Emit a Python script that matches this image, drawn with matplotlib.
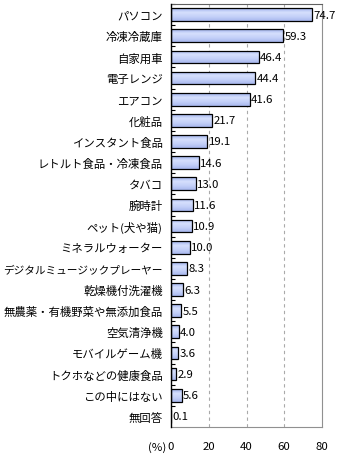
import matplotlib.pyplot as plt
import numpy as np
from matplotlib.colors import LinearSegmentedColormap

plt.rcParams['font.family'] = ['Noto Sans CJK JP', 'DejaVu Sans']

categories = [
    'パソコン', '冷凍冷蔵庫', '自家用車', '電子レンジ', 'エアコン', '化粧品',
    'インスタント食品', 'レトルト食品・冷凍食品', 'タバコ', '腕時計',
    'ペット(犬や猫)', 'ミネラルウォーター', 'デジタルミュージックプレーヤー',
    '乾燥機付洗濯機', '無農薬・有機野菜や無添加食品', '空気清浄機',
    'モバイルゲーム機', 'トクホなどの健康食品', 'この中にはない', '無回答',
]
values = [74.7, 59.3, 46.4, 44.4, 41.6, 21.7, 19.1, 14.6, 13.0, 11.6,
          10.9, 10.0, 8.3, 6.3, 5.5, 4.0, 3.6, 2.9, 5.6, 0.1]
xticks = [0, 20, 40, 60, 80]


def plot_data():
    fig = plt.figure(figsize=(3.4, 4.6), dpi=100)
    ax = fig.add_axes([171 / 340, 32 / 460, 151 / 340, 423 / 460])

    # bar fill: darker at top/bottom, light in the middle
    cmap = LinearSegmentedColormap.from_list(
        'bar', ['#9fb0ec', '#d6e0fd', '#c4d0f8', '#a8b8ef'])
    grad = np.linspace(0, 1, 64).reshape(-1, 1)

    y = np.arange(len(categories))
    h = 0.6
    bars = ax.barh(y, values, height=h, color='none', edgecolor='black',
                   linewidth=0.9, zorder=3)
    for bar, yi, v in zip(bars, y, values):
        im = ax.imshow(grad, cmap=cmap, aspect='auto', zorder=2.5,
                       extent=[0, v, yi + h / 2, yi - h / 2],
                       interpolation='bilinear')
        im.set_clip_path(bar)
        ax.text(v + 0.8, yi, f'{v:.1f}', va='center', ha='left',
                fontsize=8.2, zorder=4)

    ax.set_xlim(0, 80)
    ax.set_ylim(len(categories) - 0.5, -0.5)
    ax.set_aspect('auto')
    ax.set_xticks(xticks)
    ax.set_xticklabels([str(t) for t in xticks], fontsize=8.2)
    ax.set_yticks(y)
    ax.set_yticklabels(categories, fontsize=8.2)
    ax.tick_params(axis='y', length=0, pad=6)
    ax.tick_params(axis='x', length=0, pad=10)
    ax.set_yticks(np.arange(len(categories)) - 0.5, minor=True)
    ax.tick_params(axis='y', which='minor', direction='in', length=3,
                   width=0.8, color='black')

    # shrink the long labels so they stay inside the figure
    renderer = fig.canvas.get_renderer()
    for lab in ax.get_yticklabels():
        w = lab.get_window_extent(renderer).width
        if w > 160:
            lab.set_fontsize(8.2 * 160 / w)

    for t in xticks[1:-1]:
        ax.axvline(t, color='#aaaaaa', linestyle=(0, (3, 3)), linewidth=0.8,
                   zorder=1)

    for side in ['right', 'bottom']:
        ax.spines[side].set_color('#909090')
    ax.spines['top'].set_color('#606060')
    ax.spines['left'].set_color('black')
    ax.spines['left'].set_linewidth(1.0)
    ax.spines['left'].set_zorder(5)

    ax.text(-2.5, -0.047, '(%)', transform=ax.get_xaxis_transform(),
            ha='right', va='center', fontsize=8.2)

    fig.savefig('out.png', dpi=100)


if __name__ == '__main__':
    plot_data()
